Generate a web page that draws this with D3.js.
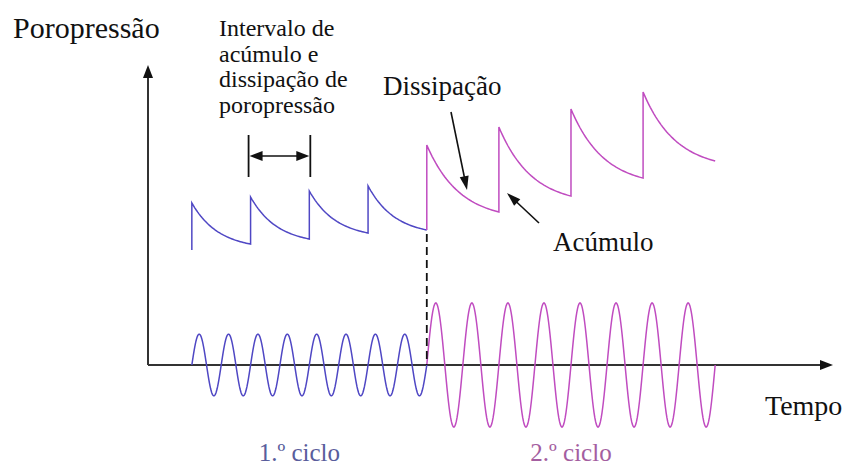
<!DOCTYPE html>
<html>
<head>
<meta charset="utf-8">
<script src="https://cdn.jsdelivr.net/npm/d3@7"></script>
<style>
  body { margin: 0; background: #fff; }
</style>
</head>
<body>
<svg id="chart" width="848" height="469"></svg>
<script>
// loading cycles
var cycles = ["1.º ciclo", "2.º ciclo"];
var cycleColors = ["#4f47c4", "#c04cc0"];
var cycleStart = [6.4, 40.7];
var cycleEnd = [40.7, 82.8];
var loadAmp = [10.3, 20.7];     // amplitude of cyclic load
var loadCount = [8, 8];         // number of load cycles

// pore pressure (sawtooth) per cycle
var startLevel = [38.3, 45];
var peaks = [[54, 56, 58, 59.7], [73.3, 79.3, 85.3, 91]];
var troughs = [[40.3, 42, 44, 45], [51, 56.3, 62.3, 68]];

var FONT = "'Liberation Serif', 'Times New Roman', Times, 'DejaVu Serif', serif";
var labelShift = [-10, 0];

var svg = d3.select("#chart");
var x = d3.scaleLinear().domain([0, 100]).range([148, 833]);
var y = d3.scaleLinear().domain([-30, 100]).range([455, 65]);

function arrowHead(x2, y2, ang, len, wid) {
    var c = Math.cos(ang), s = Math.sin(ang);
    var bx = x2 - c * len, by = y2 - s * len;
    return [[x2, y2], [bx - s * wid / 2, by + c * wid / 2], [bx + s * wid / 2, by - c * wid / 2]];
}
function arrow(g, x1, y1, x2, y2, len, wid) {
    var ang = Math.atan2(y2 - y1, x2 - x1);
    g.append("line")
        .attr("x1", x1).attr("y1", y1)
        .attr("x2", x2 - Math.cos(ang) * len * 0.6).attr("y2", y2 - Math.sin(ang) * len * 0.6)
        .attr("stroke", "#111").attr("stroke-width", 1.6);
    g.append("polygon")
        .attr("points", arrowHead(x2, y2, ang, len, wid).join(" "))
        .attr("fill", "#111");
}
function label(g, tx, ty, size, str) {
    return g.append("text").attr("x", tx).attr("y", ty)
        .attr("font-family", FONT).attr("font-size", size)
        .attr("fill", "#111").text(str);
}

// axes
var ax = svg.append("g");
arrow(ax, x(0), y(0), x(0), y(100), 13, 10);
arrow(ax, x(0), y(0), x(100), y(0), 13, 10);
ax.selectAll("line").attr("stroke", "#333").attr("stroke-width", 2);

var line = d3.line().x(function(d) { return x(d[0]); }).y(function(d) { return y(d[1]); });

cycles.forEach(function(name, i) {
    // cyclic load
    var pts = [];
    var n = 400;
    for (var k = 0; k <= n; k++) {
        var f = k / n;
        pts.push([cycleStart[i] + f * (cycleEnd[i] - cycleStart[i]),
                  loadAmp[i] * Math.sin(2 * Math.PI * loadCount[i] * f)]);
    }
    svg.append("path").attr("d", line(pts))
        .attr("fill", "none").attr("stroke", cycleColors[i]).attr("stroke-width", 1.5);

    // pore pressure sawtooth
    var seg = (cycleEnd[i] - cycleStart[i]) / peaks[i].length;
    var pp = [[cycleStart[i], startLevel[i]]];
    var kk = 2.2;
    peaks[i].forEach(function(p, j) {
        var t0 = cycleStart[i] + j * seg;
        for (var m = 0; m <= 40; m++) {
            var s = m / 40;
            var w = (Math.exp(-kk * s) - Math.exp(-kk)) / (1 - Math.exp(-kk));
            pp.push([t0 + s * seg, troughs[i][j] + (p - troughs[i][j]) * w]);
        }
    });
    svg.append("path").attr("d", line(pp))
        .attr("fill", "none").attr("stroke", cycleColors[i]).attr("stroke-width", 1.5);

    label(svg, x((cycleStart[i] + cycleEnd[i]) / 2) + labelShift[i], 461, 25, name)
        .attr("text-anchor", "middle")
        .attr("fill", i === 0 ? "#595d9c" : "#a45ea0");
});

// dashed divider between cycles
svg.append("line")
    .attr("x1", x(cycleEnd[0])).attr("x2", x(cycleEnd[0]))
    .attr("y1", y(troughs[0][3]) + 4).attr("y2", y(0))
    .attr("stroke", "#111").attr("stroke-width", 1.8)
    .attr("stroke-dasharray", "8,5");

// interval annotation
var seg0 = (cycleEnd[0] - cycleStart[0]) / peaks[0].length;
var ia = x(cycleStart[0] + seg0) - 2, ib = x(cycleStart[0] + 2 * seg0) + 1;
var ann = svg.append("g");
[ia, ib].forEach(function(px) {
    ann.append("line").attr("x1", px).attr("x2", px).attr("y1", 135).attr("y2", 177)
        .attr("stroke", "#111").attr("stroke-width", 1.8);
});
ann.append("line").attr("x1", ia + 8).attr("x2", ib - 8).attr("y1", 156).attr("y2", 156)
    .attr("stroke", "#111").attr("stroke-width", 1.6);
ann.append("polygon").attr("points", arrowHead(ia + 1, 156, Math.PI, 13, 10).join(" ")).attr("fill", "#111");
ann.append("polygon").attr("points", arrowHead(ib - 1, 156, 0, 13, 10).join(" ")).attr("fill", "#111");

// pointer arrows
arrow(svg, 451, 112, 467, 190, 14, 9);
arrow(svg, 539, 223, 507, 193, 14, 9);

// labels
label(svg, 13, 38, 30, "Poropressão");
var intervalLines = ["Intervalo de", "acúmulo e", "dissipação de", "poropressão"];
intervalLines.forEach(function(d, i) {
    label(svg, 219, 36 + i * 25.7, 24, d);
});
label(svg, 383, 95, 27, "Dissipação");
label(svg, 553, 251, 27, "Acúmulo");
label(svg, 765, 415, 28, "Tempo");
</script>
</body>
</html>
